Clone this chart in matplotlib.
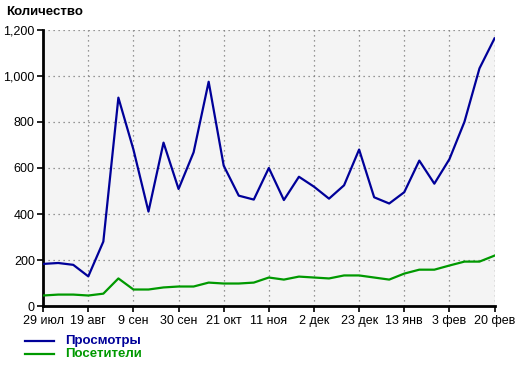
import matplotlib.pyplot as plt
from matplotlib.lines import Line2D
from matplotlib.ticker import FuncFormatter

plt.rcParams['font.family'] = ['Liberation Sans', 'DejaVu Sans']
plt.rcParams['font.size'] = 9

# weekly points, 29 июл .. 20 фев
views = [184, 188, 180, 130, 281, 905, 680, 411, 710, 509, 668, 974,
         610, 480, 463, 600, 461, 562, 519, 467, 525, 680, 473, 446,
         495, 632, 532, 638, 800, 1032, 1162]
visitors = [47, 51, 51, 47, 55, 121, 73, 73, 82, 86, 86, 103,
            99, 99, 103, 125, 116, 129, 125, 121, 134, 134, 125, 116,
            142, 159, 159, 177, 194, 194, 220]
tick_pos = [0, 3, 6, 9, 12, 15, 18, 21, 24, 27, 30]
tick_labels = ['29 июл', '19 авг', '9 сен', '30 сен', '21 окт', '11 ноя',
               '2 дек', '23 дек', '13 янв', '3 фев', '20 фев']

blue = '#000099'
green = '#009900'
x = list(range(len(views)))

fig = plt.figure(figsize=(5.2, 3.66), dpi=100)
ax = fig.add_axes([0.083, 0.163, 0.868, 0.756])
ax.set_facecolor('#f4f4f4')

ax.plot(x, views, color=blue, linewidth=1.6, zorder=3)
ax.plot(x, visitors, color=green, linewidth=1.6, zorder=3)

ax.set_xlim(0, 30)
ax.set_ylim(0, 1200)
ax.set_xticks(tick_pos)
ax.set_xticklabels(tick_labels)
ax.set_yticks(range(0, 1201, 200))
ax.yaxis.set_major_formatter(FuncFormatter(lambda v, p: f'{int(v):,}'))

ax.spines['top'].set_visible(False)
ax.spines['right'].set_visible(False)
ax.spines['left'].set_linewidth(2)
ax.spines['bottom'].set_linewidth(2)
ax.tick_params(length=4, width=1.2, pad=2, colors='black')

ax.grid(True, linestyle=(0, (1, 3)), color='#777777', linewidth=0.9)
ax.axvline(30, linestyle=(0, (1, 3)), color='#777777', linewidth=0.9)

fig.text(0.011, 0.967, 'Количество', fontsize=9.5, fontweight='bold', va='center')

# legend below the plot
for yy, col, name in [(0.068, blue, 'Просмотры'), (0.034, green, 'Посетители')]:
    fig.add_artist(Line2D([0.048, 0.104], [yy, yy], color=col, linewidth=1.6))
    fig.text(0.125, yy, name, color=col, fontsize=9.5, fontweight='bold', va='center')

fig.savefig('out.png', dpi=100)
